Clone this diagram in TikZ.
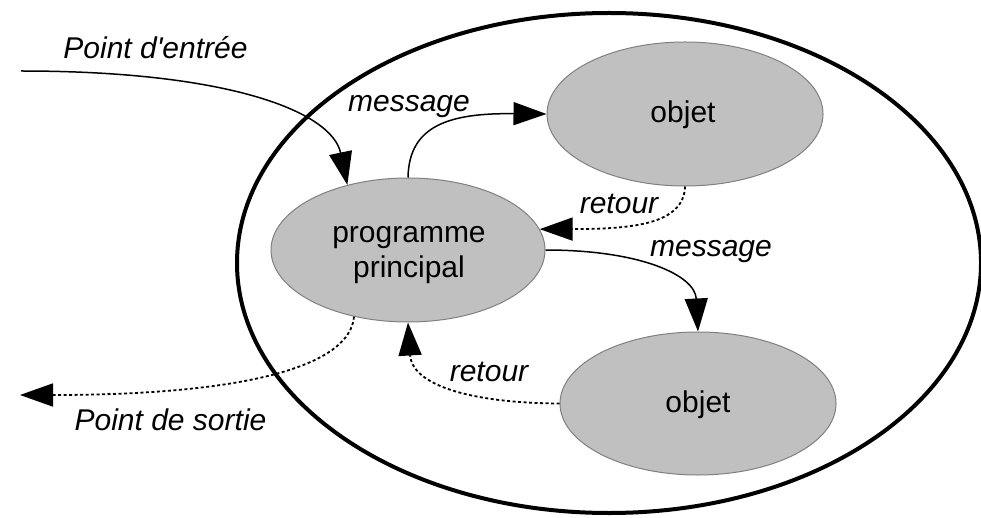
\documentclass[tikz,border=0pt]{standalone}
\usepackage{fontspec}
\setmainfont{Liberation Sans}
\usetikzlibrary{shapes.geometric,arrows.meta}
\definecolor{blobfill}{HTML}{C0C0C0}
\definecolor{blobline}{HTML}{808080}
\tikzset{
  blob/.style={ellipse, fill=blobfill, draw=blobline, line width=1pt, inner sep=0pt, align=center, font=\fontsize{30pt}{34pt}\selectfont},
  lbl/.style={anchor=base, inner sep=0pt, font=\fontsize{30pt}{34pt}\selectfont\itshape},
  txt/.style={anchor=base, inner sep=0pt, font=\fontsize{30pt}{34pt}\selectfont},
  conn/.style={line width=1.5pt, -{Triangle[length=33pt,width=23pt]}},
  back/.style={conn, line width=1.8pt, dash pattern=on 3pt off 2.5pt},
}
\begin{document}
\begin{tikzpicture}[x=1pt,y=-1pt]
\useasboundingbox (0,0) rectangle (981,518);
\node[ellipse, draw, line width=4pt, minimum width=744pt, minimum height=500pt, inner sep=0pt] (world) at (609,263) {};
\node[blob, minimum width=274pt, minimum height=144pt] (prog) at (408,250) {};
\node[txt] (progtxt1) at (409,243) {programme};
\node[txt] (progtxt2) at (409,277) {principal};
\node[blob, minimum width=276pt, minimum height=144pt] (obja) at (685,114) {};
\node[txt] (objatxt) at (683,123) {objet};
\node[blob, minimum width=276pt, minimum height=143pt] (objb) at (698,403.5) {};
\node[txt] (objbtxt) at (698,412) {objet};
\coordinate (entry) at (21,71);
\coordinate (exit) at (20,395);
\draw[conn] (entry) .. controls (230,71) and (332,112) .. (prog.133);
\draw[conn] (prog.90) .. controls (409,125) and (450,113) .. (obja.west);
\draw[back] (obja.south) .. controls (684,225) and (630,229) .. (prog.9);
\draw[conn] (prog.east) .. controls (640,250) and (695,275) .. (objb.north);
\draw[back] (objb.west) .. controls (470,403) and (412,385) .. (prog.south);
\draw[back] (prog.231) .. controls (350,365) and (250,395) .. (exit);
\node[lbl] (lentry) at (155.5,59) {Point d\textquotesingle entrée};
\node[lbl] (lmsg1) at (409,112) {message};
\node[lbl] (lret1) at (619,214) {retour};
\node[lbl] (lmsg2) at (711,257) {message};
\node[lbl] (lret2) at (489,381) {retour};
\node[lbl] (lexit) at (170.5,430) {Point de sortie};
\end{tikzpicture}
\end{document}
